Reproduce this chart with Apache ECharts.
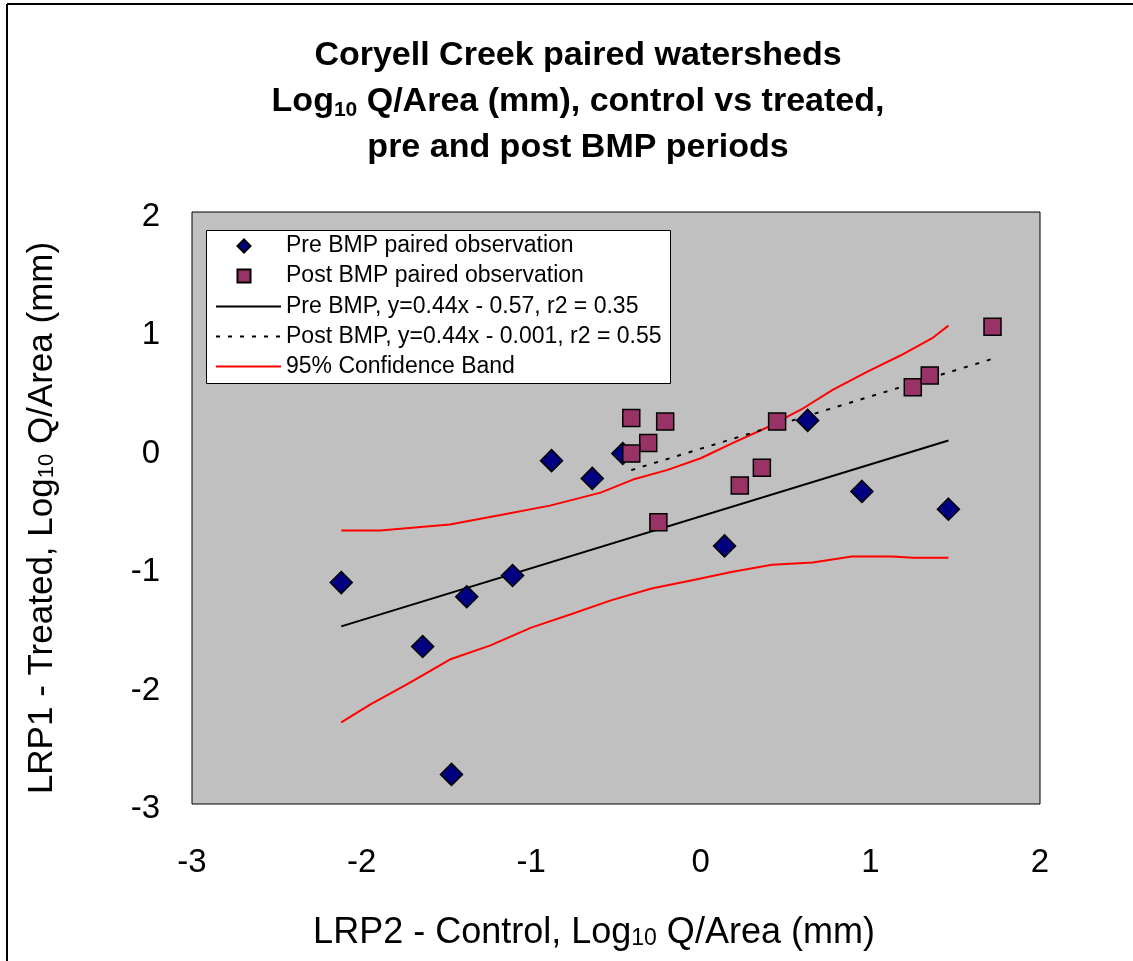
<!DOCTYPE html>
<html>
<head>
<meta charset="utf-8">
<script src="https://cdn.jsdelivr.net/npm/echarts@6/dist/echarts.min.js"></script>
<style>
html,body{margin:0;padding:0;background:#fff;}
#chart{width:1133px;height:961px;}
</style>
</head>
<body>
<div id="chart"></div>
<script>
// ---- data ----
var preX = [-2.12, -1.64, -1.38, -1.47, -1.11, -0.88, -0.64, -0.46, 0.14, 0.63, 0.95, 1.46];
var preY = [-1.13, -1.67, -1.25, -2.75, -1.07, -0.10, -0.25, -0.04, -0.82, 0.24, -0.36, -0.51];

var postX = [-0.41, -0.21, -0.31, -0.41, -0.25, 0.23, 0.36, 0.45, 1.25, 1.35, 1.72];
var postY = [0.26, 0.23, 0.05, -0.04, -0.62, -0.31, -0.16, 0.23, 0.52, 0.62, 1.03];

var preFitX = [-2.12, 1.46];
var preFitY = [-1.50, 0.07];

var postFitX = [-0.41, 1.72];
var postFitY = [-0.18, 0.76];

var upperBandX = [-2.12, -1.89, -1.48, -1.18, -0.89, -0.59, -0.40, -0.20, 0.00, 0.19, 0.39, 0.59, 0.78, 0.98, 1.18, 1.37, 1.46];
var upperBandY = [-0.69, -0.69, -0.64, -0.56, -0.48, -0.37, -0.26, -0.18, -0.08, 0.05, 0.18, 0.33, 0.50, 0.65, 0.79, 0.94, 1.04];

var lowerBandX = [-2.12, -1.95, -1.72, -1.48, -1.24, -1.00, -0.77, -0.53, -0.29, -0.05, 0.18, 0.42, 0.66, 0.89, 1.13, 1.25, 1.46];
var lowerBandY = [-2.31, -2.16, -1.98, -1.78, -1.66, -1.51, -1.40, -1.28, -1.18, -1.11, -1.04, -0.98, -0.96, -0.91, -0.91, -0.92, -0.92];

var xTicks = [-3, -2, -1, 0, 1, 2];
var yTicks = [-3, -2, -1, 0, 1, 2];

var seriesNames = [
  'Pre BMP paired observation',
  'Post BMP paired observation',
  'Pre BMP, y=0.44x - 0.57, r2 = 0.35',
  'Post BMP, y=0.44x - 0.001, r2 = 0.55',
  '95% Confidence Band'
];

function pairs(xs, ys) {
  return xs.map(function (x, i) { return [x, ys[i]]; });
}

var FONT = '"Liberation Sans", Arial, sans-serif';

var chart = echarts.init(document.getElementById('chart'));
chart.setOption({
  animation: false,
  backgroundColor: '#ffffff',
  textStyle: { fontFamily: FONT, color: '#000' },
  title: {
    left: 573,
    top: 28,
    textAlign: 'center',
    text: '{b|Coryell Creek paired watersheds}\n{b|Log}{s|10}{b| Q/Area (mm), control vs treated,}\n{b|pre and post BMP periods}',
    textStyle: {
      fontFamily: FONT,
      rich: {
        b: { fontSize: 34, fontWeight: 'bold', fontFamily: FONT, color: '#000', lineHeight: 46 },
        s: { fontSize: 21, fontWeight: 'bold', fontFamily: FONT, color: '#000', lineHeight: 21, verticalAlign: 'bottom', padding: [0, 0, 4, 0] }
      }
    }
  },
  graphic: [
    { type: 'line', shape: { x1: 7, y1: 4, x2: 1133, y2: 4 }, style: { stroke: '#000', lineWidth: 2 }, silent: true, z: 10 },
    { type: 'line', shape: { x1: 7, y1: 4, x2: 7, y2: 961 }, style: { stroke: '#000', lineWidth: 2 }, silent: true, z: 10 },
    { type: 'rect', shape: { x: 206.5, y: 230.5, width: 464, height: 153 }, style: { fill: '#fff', stroke: '#000', lineWidth: 1 }, silent: true, z: 3 }
  ],
  legend: [
    {
      left: 236.5,
      top: 234.5,
      orient: 'vertical',
      padding: 0,
      itemWidth: 13,
      itemHeight: 13,
      itemGap: 7,
      itemTextGap: 6,
      selectedMode: false,
      z: 5,
      data: [seriesNames[0], seriesNames[1]],
      textStyle: { fontFamily: FONT, fontSize: 23, color: '#000', padding: [0, 0, 0, 30.5] }
    },
    {
      left: 215,
      top: 295,
      orient: 'vertical',
      padding: 0,
      itemWidth: 65,
      itemHeight: 12,
      itemGap: 7,
      itemTextGap: 6,
      selectedMode: false,
      z: 5,
      itemStyle: { opacity: 0 },
      data: [seriesNames[2], seriesNames[3], seriesNames[4]],
      textStyle: { fontFamily: FONT, fontSize: 23, color: '#000' }
    }
  ],
  grid: {
    left: 192, right: 93, top: 212, bottom: 157,
    show: true,
    backgroundColor: '#C0C0C0',
    borderColor: '#000',
    borderWidth: 1
  },
  xAxis: {
    type: 'value',
    min: xTicks[0], max: xTicks[xTicks.length - 1], interval: 1,
    axisLine: { show: false },
    axisTick: { show: false },
    splitLine: { show: false },
    axisLabel: { fontSize: 33, fontFamily: FONT, color: '#000', margin: 42 },
    name: '{n|LRP2 - Control, Log}{s|10}{n| Q/Area (mm)}',
    nameLocation: 'middle',
    nameGap: 109,
    nameTextStyle: {
      padding: [0, 44, 0, 0],
      rich: {
        n: { fontSize: 36, fontFamily: FONT, color: '#000', lineHeight: 40 },
        s: { fontSize: 23, fontFamily: FONT, color: '#000', lineHeight: 23, verticalAlign: 'bottom', padding: [0, 0, 3, 0] }
      }
    }
  },
  yAxis: {
    type: 'value',
    min: yTicks[0], max: yTicks[yTicks.length - 1], interval: 1,
    axisLine: { show: false },
    axisTick: { show: false },
    splitLine: { show: false },
    axisLabel: {
      fontSize: 33, fontFamily: FONT, color: '#000', margin: 32,
      formatter: '{v|{value}}',
      rich: { v: { fontSize: 33, fontFamily: FONT, color: '#000', lineHeight: 33, padding: [10, 0, 0, 0] } }
    },
    name: '{n|LRP1 - Treated, Log}{s|10}{n| Q/Area (mm)}',
    nameLocation: 'middle',
    nameGap: 130,
    nameTextStyle: {
      padding: [0, 20, 0, 0],
      rich: {
        n: { fontSize: 35, fontFamily: FONT, color: '#000', lineHeight: 40 },
        s: { fontSize: 22, fontFamily: FONT, color: '#000', lineHeight: 22, verticalAlign: 'bottom', padding: [0, 0, 4, 0] }
      }
    }
  },
  series: [
    {
      name: seriesNames[4], type: 'line', data: pairs(upperBandX, upperBandY),
      showSymbol: false, symbol: 'none', smooth: false, z: 2,
      lineStyle: { color: '#FF0000', width: 2 }, itemStyle: { color: '#FF0000' }
    },
    {
      name: seriesNames[4], type: 'line', data: pairs(lowerBandX, lowerBandY),
      showSymbol: false, symbol: 'none', smooth: false, z: 2,
      lineStyle: { color: '#FF0000', width: 2 }, itemStyle: { color: '#FF0000' }
    },
    {
      name: seriesNames[2], type: 'line', data: pairs(preFitX, preFitY),
      showSymbol: false, symbol: 'none', z: 2,
      lineStyle: { color: '#000', width: 2 }, itemStyle: { color: '#000' }
    },
    {
      name: seriesNames[3], type: 'line', data: pairs(postFitX, postFitY),
      showSymbol: false, symbol: 'none', z: 2,
      lineStyle: { color: '#000', width: 2, type: [4, 8] }, itemStyle: { color: '#000' }
    },
    {
      name: seriesNames[0], type: 'scatter', data: pairs(preX, preY),
      symbol: 'diamond', symbolSize: 22, z: 3,
      itemStyle: { color: '#000080', borderColor: '#000', borderWidth: 1.5, opacity: 1 }
    },
    {
      name: seriesNames[1], type: 'scatter', data: pairs(postX, postY),
      symbol: 'rect', symbolSize: 17, z: 4,
      itemStyle: { color: '#993366', borderColor: '#000', borderWidth: 1.5, opacity: 1 }
    }
  ]
});
</script>
</body>
</html>
